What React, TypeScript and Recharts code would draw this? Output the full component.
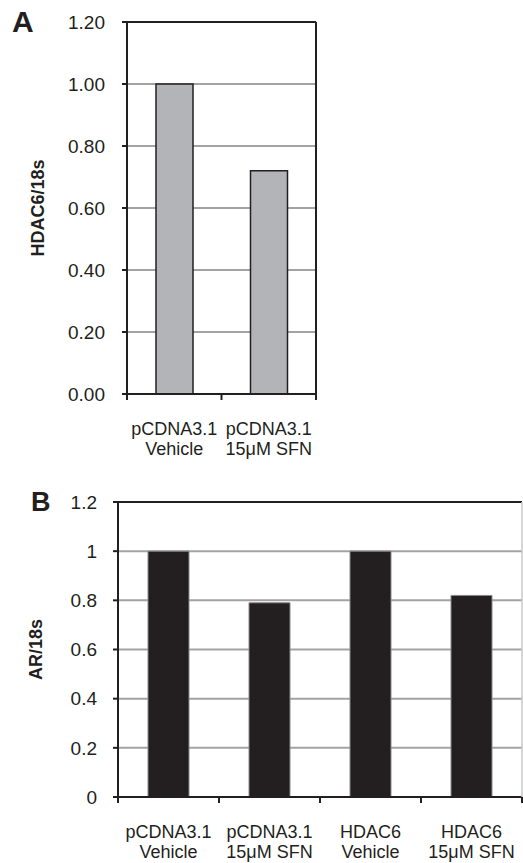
import { BarChart, Bar, XAxis, YAxis, CartesianGrid, ReferenceLine, Label } from "recharts";
import type { CSSProperties } from "react";

const categoriesA = ["pCDNA3.1\nVehicle", "pCDNA3.1\n15μM SFN"];
const hdac6Values = [1.0, 0.72];
const ticksA = [0, 0.2, 0.4, 0.6, 0.8, 1.0, 1.2];

const categoriesB = ["pCDNA3.1\nVehicle", "pCDNA3.1\n15μM SFN", "HDAC6\nVehicle", "HDAC6\n15μM SFN"];
const arValues = [1, 0.79, 1, 0.82];
const ticksB = [0, 0.2, 0.4, 0.6, 0.8, 1, 1.2];

const dataA = categoriesA.map((name, i) => ({ name, value: hdac6Values[i] }));
const dataB = categoriesB.map((name, i) => ({ name, value: arValues[i] }));

const INK = "#231f20";
const GRID = "#a3a3a3";
const FONT = "'Liberation Sans', Arial, sans-serif";

// two-line category label plus Excel style tick marks between categories
const makeCatTick = (halfBand: number, count: number) => (props: any) => {
  const { x, y, payload, index } = props;
  const [l1, l2] = String(payload.value).split("\n");
  return (
    <g>
      <line x1={x - halfBand} x2={x - halfBand} y1={y} y2={y + 6} stroke={INK} strokeWidth={2} />
      {index === count - 1 && (
        <line x1={x + halfBand} x2={x + halfBand} y1={y} y2={y + 6} stroke={INK} strokeWidth={2} />
      )}
      <text x={x} y={y + 41} textAnchor="middle" fill={INK} fontSize={18} fontFamily={FONT}>
        <tspan x={x}>{l1}</tspan>
        <tspan x={x} dy={20}>{l2}</tspan>
      </text>
    </g>
  );
};

const yTitle = (text: string, dx: number) => (props: any) => {
  const vb = props.viewBox;
  const cx = vb.x + dx;
  const cy = vb.y + vb.height / 2;
  return (
    <text
      x={cx}
      y={cy}
      transform={`rotate(-90 ${cx} ${cy})`}
      textAnchor="middle"
      dominantBaseline="central"
      fontSize={18}
      fontWeight="bold"
      fontFamily={FONT}
      fill={INK}
    >
      {text}
    </text>
  );
};

const letter = (top: number, left: number, size: number): CSSProperties => ({
  position: "absolute",
  top,
  left,
  fontSize: size,
  lineHeight: 1,
  fontWeight: "bold",
  fontFamily: FONT,
  color: INK,
});

export default function App() {
  return (
    <div style={{ position: "absolute", left: 0, top: 0, width: 523, height: 863, background: "#fff" }}>
      <div style={letter(7, 12, 30)}>A</div>
      <div style={letter(489, 31, 27)}>B</div>

      {/* Panel A */}
      <div style={{ position: "absolute", left: 0, top: 0 }}>
        <BarChart width={330} height={470} data={dataA} margin={{ top: 22, right: 13, left: 0, bottom: 0 }}>
          <CartesianGrid vertical={false} stroke={GRID} strokeWidth={2} />
          <XAxis
            dataKey="name"
            height={76}
            axisLine={{ stroke: INK, strokeWidth: 2 }}
            tickLine={false}
            tickSize={0}
            tickMargin={0}
            interval={0}
            tick={makeCatTick((316 - 127) / 2 / 2, categoriesA.length)}
          />
          <YAxis
            width={127}
            domain={[0, 1.2]}
            ticks={ticksA}
            tickFormatter={(v: number) => v.toFixed(2)}
            axisLine={{ stroke: INK, strokeWidth: 2 }}
            tickLine={{ stroke: INK, strokeWidth: 2 }}
            tickSize={5}
            tickMargin={17}
            tick={{ fill: INK, fontSize: 19, fontFamily: FONT }}
          >
            <Label content={yTitle("HDAC6/18s", 38)} />
          </YAxis>
          <YAxis
            yAxisId="r"
            orientation="right"
            width={1}
            domain={[0, 1.2]}
            tick={false}
            tickLine={false}
            axisLine={{ stroke: INK, strokeWidth: 2 }}
          />
          <ReferenceLine y={1.2} stroke={INK} strokeWidth={2} />
          <Bar dataKey="value" fill="#b3b4b7" stroke={INK} strokeWidth={1.5} barSize={37} isAnimationActive={false} />
        </BarChart>
      </div>

      {/* Panel B */}
      <div style={{ position: "absolute", left: 0, top: 480 }}>
        <BarChart width={523} height={383} data={dataB} margin={{ top: 22, right: 0, left: 0, bottom: 0 }}>
          <CartesianGrid vertical={false} stroke={GRID} strokeWidth={2} />
          <XAxis
            dataKey="name"
            height={66}
            axisLine={{ stroke: INK, strokeWidth: 2 }}
            tickLine={false}
            tickSize={0}
            tickMargin={0}
            interval={0}
            tick={makeCatTick((522 - 118) / 4 / 2, categoriesB.length)}
          />
          <YAxis
            width={118}
            domain={[0, 1.2]}
            ticks={ticksB}
            tickFormatter={(v: number) => String(v)}
            axisLine={{ stroke: INK, strokeWidth: 2 }}
            tickLine={{ stroke: INK, strokeWidth: 2 }}
            tickSize={5}
            tickMargin={16}
            tick={{ fill: INK, fontSize: 19, fontFamily: FONT }}
          >
            <Label content={yTitle("AR/18s", 36)} />
          </YAxis>
          <YAxis
            yAxisId="r"
            orientation="right"
            width={1}
            domain={[0, 1.2]}
            tick={false}
            tickLine={false}
            axisLine={{ stroke: "#c8c8c8", strokeWidth: 1.5 }}
          />
          <ReferenceLine y={1.2} stroke={INK} strokeWidth={2} />
          <Bar dataKey="value" fill={INK} stroke="#8a8a8a" strokeWidth={1} barSize={41} isAnimationActive={false} />
        </BarChart>
      </div>
    </div>
  );
}
